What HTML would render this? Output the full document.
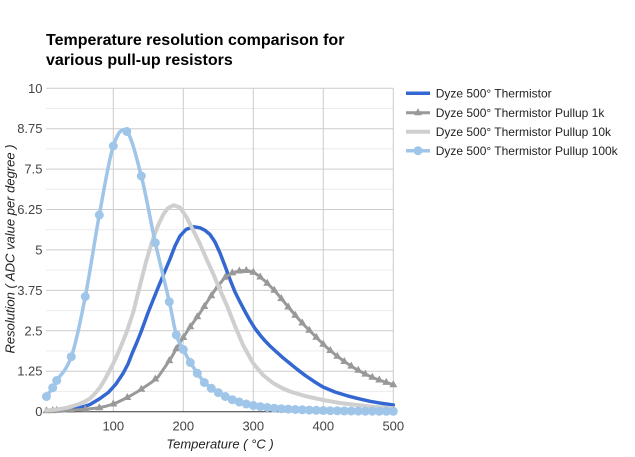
<!DOCTYPE html>
<html><head><meta charset="utf-8"><style>
html,body{margin:0;padding:0;background:#fff;}
svg{display:block;font-family:"Liberation Sans",Arial,sans-serif;}
</style></head><body>
<svg width="635" height="457" viewBox="0 0 635 457" xmlns="http://www.w3.org/2000/svg">
<defs>
<marker id="mc" markerWidth="10" markerHeight="10" refX="5" refY="5" markerUnits="userSpaceOnUse"><circle cx="5" cy="5" r="4.5" fill="#9fc5e8"/></marker>
<marker id="mt" markerWidth="10" markerHeight="10" refX="5" refY="5" markerUnits="userSpaceOnUse"><polygon points="5,0.5 1,7.5 9,7.5" fill="#999999"/></marker>
</defs>
<rect width="635" height="457" fill="#fff"/>
<text x="46" y="45" font-size="16" font-weight="bold" fill="#000">Temperature resolution comparison for</text>
<text x="46" y="65" font-size="16" font-weight="bold" fill="#000">various pull-up resistors</text>
<path stroke="#ebebeb" stroke-width="1" fill="none" d="M46 108.5H393.3M46 148.9H393.3M46 189.3H393.3M46 229.7H393.3M46 270.1H393.3M46 310.6H393.3M46 351H393.3M46 391.4H393.3"/>
<path stroke="#cccccc" stroke-width="1" fill="none" d="M46 88.3H393.3M46 128.7H393.3M46 169.1H393.3M46 209.5H393.3M46 249.9H393.3M46 290.4H393.3M46 330.8H393.3M46 371.2H393.3M113.3 88.3V411.7M183.3 88.3V411.7M253.3 88.3V411.7M323.3 88.3V411.7M393.3 88.3V411.7"/>
<line x1="44" x2="393.3" y1="411.7" y2="411.7" stroke="#333" stroke-width="1"/>
<g font-size="13" fill="#444" text-anchor="end">
<text x="42.5" y="92.8">10</text>
<text x="42.5" y="133.2">8.75</text>
<text x="42.5" y="173.6">7.5</text>
<text x="42.5" y="214">6.25</text>
<text x="42.5" y="254.4">5</text>
<text x="42.5" y="294.9">3.75</text>
<text x="42.5" y="335.3">2.5</text>
<text x="42.5" y="375.7">1.25</text>
<text x="42.5" y="416.2">0</text>
</g>
<g font-size="13" fill="#444" text-anchor="middle">
<text x="113.3" y="430.5">100</text>
<text x="183.3" y="430.5">200</text>
<text x="253.3" y="430.5">300</text>
<text x="323.3" y="430.5">400</text>
<text x="393.3" y="430.5">500</text>
</g>
<text x="220" y="448.5" font-size="13" font-style="italic" fill="#222" text-anchor="middle">Temperature ( °C )</text>
<text transform="translate(14.5,249) rotate(-90)" font-size="13" font-style="italic" fill="#222" text-anchor="middle">Resolution ( ADC value per degree )</text>

<polyline fill="none" stroke="#3367d1" stroke-width="3.5" stroke-linejoin="round" stroke-linecap="round" points="46,411.2 60,410.6 73,409.5 85,406.2 90,404.5 95,401.5 100,398.5 108.3,392.5 116,384 123.3,373 128,364 132.3,353 137,342 141,332 148.3,312 156.7,291 163.3,275 170,259 175,246 180,236 186,229.5 193.3,226.7 200,227.8 205,230.3 210,234.5 215,242 220,253 225,266 230,279.5 235,292 240,302 245,311.5 250,320.5 255,328.5 260,335 265,340.8 270,346 276,351.5 283,357.8 290,363.5 297,369.2 305,375.3 315,382.1 323,387 335,392 348,396 357,398.3 370,401.3 382,403.4 393.3,405"/>

<polyline fill="none" stroke="#999999" stroke-width="3" stroke-linejoin="round" stroke-linecap="round" points="46,410.8 60,410.5 71,410.2 83,409.5 95,408.3 105,406.5 115,403.5 128.3,397 137,392 145,386.7 152,382 158.3,376.7 165,367 171.7,357 176.7,348 181.7,340 188,330 195,320 200,313 208,300.5 216.7,287.5 225,277.5 232,273 240,270.8 248,270.5 254,272.5 258.3,275.5 265,281 275,291 285,303 295,315 305,326 315,336 325,346 335,354.5 345,362 355,368.5 365,374 375,378.5 385,382 393.3,384.7"/>
<polyline fill="none" stroke="none" marker-start="url(#mt)" marker-mid="url(#mt)" marker-end="url(#mt)" points="46.5,410.8 52.7,410.6 56.7,410.4 71.3,410.2 85.3,409.3 99.3,407.7 113.3,404 127.3,397.5 141.3,389.2 155.3,379 169.3,360.6 176.3,348.7 183.3,337.5 190.3,326.7 197.3,316.8 204.3,306.5 211.3,295.7 218.3,285.7 225.3,277.3 232.3,272.9 239.3,271 246.3,270.5 253.3,272.2 260.3,277 267.3,283.3 274.3,290.3 281.3,298.6 288.3,307 295.3,315.3 302.3,323 309.3,330.3 316.3,337.3 323.3,344.3 330.3,350.5 337.3,356.2 344.3,361.5 351.3,366.1 358.3,370.3 365.3,374.1 372.3,377.3 379.3,380 386.3,382.4 393.3,384.7"/>

<polyline fill="none" stroke="#cfcfcf" stroke-width="4" stroke-linejoin="round" stroke-linecap="round" points="46,410.5 55,409.8 66.7,407.8 78,404.5 85,401.5 90,398.5 95,393.5 100,387.5 104,381 108.3,373 113,364 118.3,352.5 122.5,342.5 126.7,332 133.3,312 138.3,292 146,262 150,248.5 153.3,238 158,225.5 163.3,214.5 168,208 174,205.2 180,207.5 186.7,217.5 193,230 200,244 206,258 213.3,274 220,290 226.7,305 235,326 243,345 253,363 263,375 273,383 282,388 290,391.5 305,396 323,400 340,403 357,405 375,407 393.3,408.3"/>

<path fill="none" stroke="#9fc5e8" stroke-width="3.5" stroke-linejoin="round" stroke-linecap="round" d="M46.5,396.5 C47.5,395 51,390.4 52.7,387.7 C54.4,385 54.6,384.2 56.7,380.5 C59.8,375.3 66.5,370.7 71.3,356.7 C76.1,342.7 80.6,320.1 85.3,296.5 C90,272.9 94.6,240.1 99.3,215 C104,189.9 108.7,159.9 113.3,146 C117.9,132.1 122.1,126.5 126.8,131.5 C131.5,136.5 136.5,157.5 141.3,176 C146.1,194.5 150.6,221.7 155.3,242.7 C160,263.7 165.8,286.3 169.3,301.7 C172.8,317.1 174,327 176.3,335 C178.6,343 181,344.9 183.3,349.5 C185.6,354.1 188,358.5 190.3,362.5 L197.3,373.3 L204.3,382.5 L211.3,388.3 L218.3,392.6 L225.3,396.5 L232.3,399.7 L239.3,402 L246.3,404 L253.3,405.5 L260.3,406.6 L267.3,407.5 L274.3,408.2 L281.3,408.7 L288.3,409.1 L295.3,409.5 L302.3,409.8 L309.3,410.1 L316.3,410.3 L323.3,410.5 L330.3,410.7 L337.3,410.8 L344.3,410.9 L351.3,411 L358.3,411.1 L365.3,411.2 L372.3,411.2 L379.3,411.3 L386.3,411.3 L393.3,411.3"/>
<polyline fill="none" stroke="none" marker-start="url(#mc)" marker-mid="url(#mc)" marker-end="url(#mc)" points="46.5,396.5 52.7,387.7 56.7,380.5 71.3,356.7 85.3,296.5 99.3,215 113.3,146 126.8,131.5 141.3,176 155.3,242.7 169.3,301.7 176.3,335 183.3,349.5 190.3,362.5 197.3,373.3 204.3,382.5 211.3,388.3 218.3,392.6 225.3,396.5 232.3,399.7 239.3,402 246.3,404 253.3,405.5 260.3,406.6 267.3,407.5 274.3,408.2 281.3,408.7 288.3,409.1 295.3,409.5 302.3,409.8 309.3,410.1 316.3,410.3 323.3,410.5 330.3,410.7 337.3,410.8 344.3,410.9 351.3,411 358.3,411.1 365.3,411.2 372.3,411.2 379.3,411.3 386.3,411.3 393.3,411.3"/>

<g font-size="12" fill="#222">
<line x1="406" x2="430" y1="93.3" y2="93.3" stroke="#3367d1" stroke-width="3.5"/>
<text x="435.7" y="97.5">Dyze 500° Thermistor</text>
<line x1="406" x2="430" y1="112.7" y2="112.7" stroke="#999999" stroke-width="3"/>
<polygon points="418,108.2 414,115.2 422,115.2" fill="#999999"/>
<text x="435.7" y="116.9">Dyze 500° Thermistor Pullup 1k</text>
<line x1="406" x2="430" y1="131.7" y2="131.7" stroke="#cfcfcf" stroke-width="4"/>
<text x="435.7" y="135.9">Dyze 500° Thermistor Pullup 10k</text>
<line x1="406" x2="430" y1="150.7" y2="150.7" stroke="#9fc5e8" stroke-width="3.5"/>
<circle cx="418" cy="150.7" r="4.5" fill="#9fc5e8"/>
<text x="435.7" y="154.9">Dyze 500° Thermistor Pullup 100k</text>
</g>
</svg>
</body></html>
